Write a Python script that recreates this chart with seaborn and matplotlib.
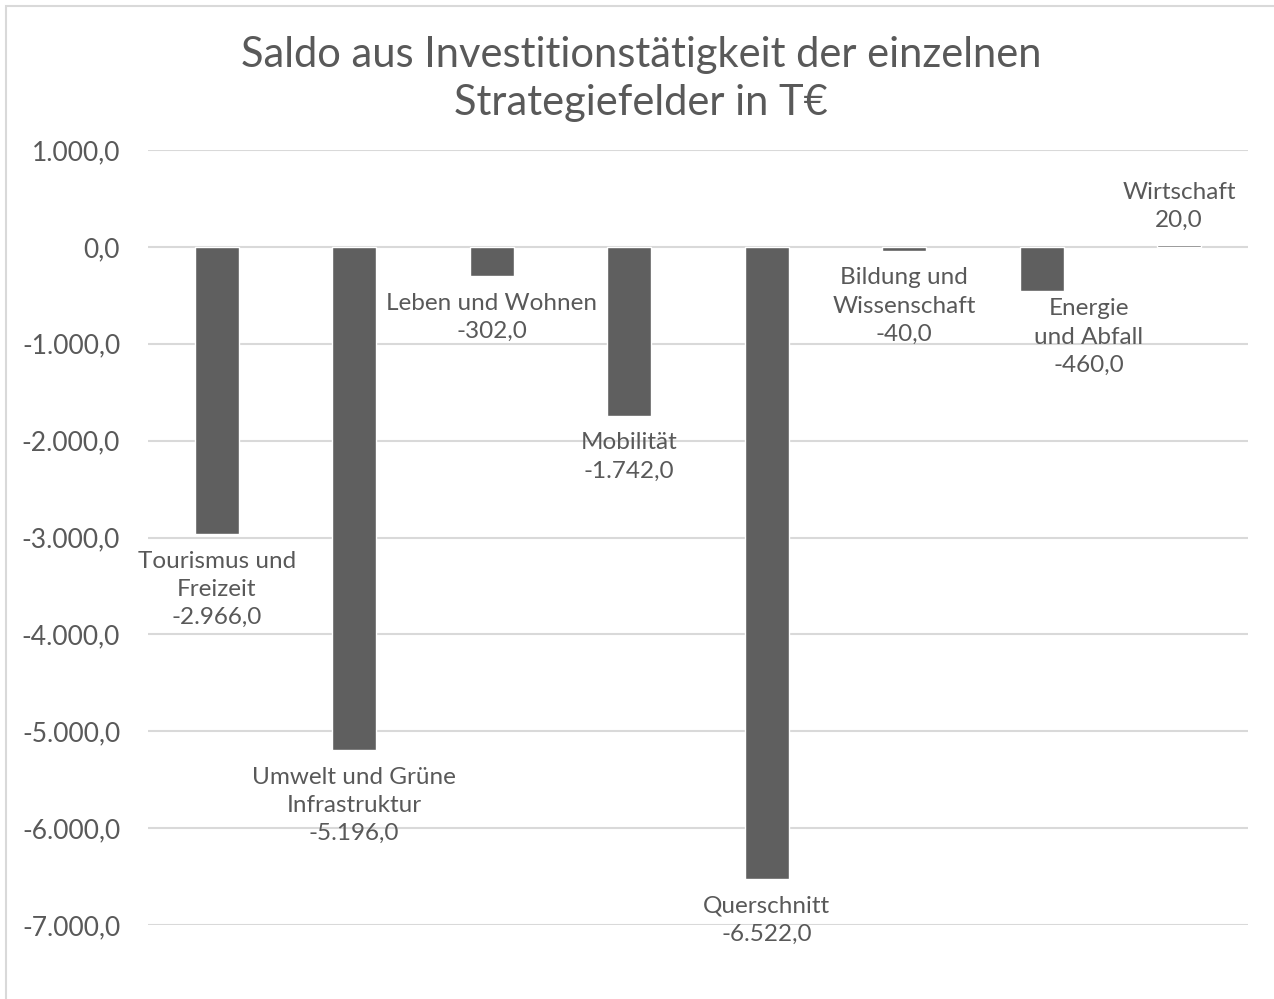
import numpy as np
import pandas as pd
import matplotlib
matplotlib.use("Agg")
import matplotlib.pyplot as plt
import seaborn as sns

felder = ["Tourismus und\nFreizeit", "Umwelt und Grüne\nInfrastruktur", "Leben und Wohnen",
          "Mobilität", "Querschnitt", "Bildung und\nWissenschaft", "Energie\nund Abfall", "Wirtschaft"]
saldo = [-2966.0, -5196.0, -302.0, -1742.0, -6522.0, -40.0, -460.0, 20.0]
y_ticks = [1000, 0, -1000, -2000, -3000, -4000, -5000, -6000, -7000]

# label offsets in points (dx, dy), Excel placed them by hand
label_offsets = [(0, -12), (0, -12), (0, -12), (0, -12), (0, -12), (0, -12), (34, -5), (0, 10)]

def fmt_de(v):
    s = f"{v:,.1f}"
    return s.replace(",", "X").replace(".", ",").replace("X", ".")

sns.set_style("white")
plt.rcParams["font.family"] = ["Lato", "DejaVu Sans"]
grau = "#595959"

df = pd.DataFrame({"Feld": felder, "Saldo": saldo})

fig = plt.figure(figsize=(12.74, 9.99), dpi=100)
ax = fig.add_axes([148 / 1274, 1 - 925 / 999, 1100 / 1274, 775 / 999])

sns.barplot(data=df, x="Feld", y="Saldo", color="#5f5f5f", width=0.32, saturation=1, ax=ax, zorder=3)

ax.set_ylim(-7000, 1000)
ax.set_yticks(y_ticks)
ax.set_yticklabels([fmt_de(t) for t in y_ticks], fontsize=19, color=grau)
ax.tick_params(axis="y", length=0, pad=20)
ax.set_xticks([])
ax.set_xlabel("")
ax.set_ylabel("")
ax.grid(axis="y", color="#d9d9d9", linewidth=1.5, zorder=0)
for s in ax.spines.values():
    s.set_visible(False)

for i, (f, v) in enumerate(zip(felder, saldo)):
    dx, dy = label_offsets[i]
    va = "bottom" if v > 0 else "top"
    ax.annotate(f + "\n" + fmt_de(v), xy=(i, v), xytext=(dx, dy), textcoords="offset points",
                ha="center", va=va, fontsize=17.5, color=grau, linespacing=1.42)

fig.text(0.503, 0.921, "Saldo aus Investitionstätigkeit der einzelnen\nStrategiefelder in T€",
         ha="center", va="center", fontsize=30, color=grau, linespacing=1.3)

fig.patches.append(plt.Rectangle((6 / 1274, -0.05), 1.2, 1 - 6 / 999 + 0.05, transform=fig.transFigure,
                                 fill=False, edgecolor="#d9d9d9", linewidth=1.5))

fig.savefig("out.png", dpi=100, facecolor="white")
